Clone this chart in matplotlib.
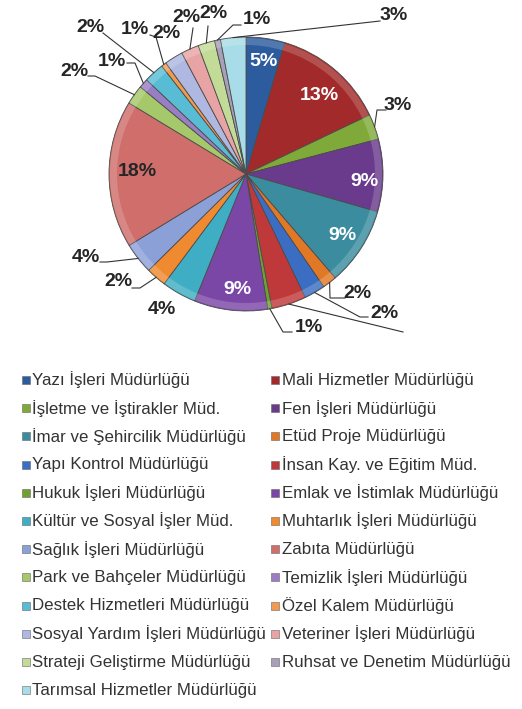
import numpy as np
import matplotlib.pyplot as plt
from matplotlib.patches import Wedge

# Data (share of staff per directorate, %)
departments = ['Yazı İşleri Müdürlüğü', 'Mali Hizmetler Müdürlüğü',
               'İşletme ve İştirakler Müd.', 'Fen İşleri Müdürlüğü',
               'İmar ve Şehircilik Müdürlüğü', 'Etüd Proje Müdürlüğü',
               'Yapı Kontrol Müdürlüğü', 'İnsan Kay. ve Eğitim Müd.',
               'Hukuk İşleri Müdürlüğü', 'Emlak ve İstimlak Müdürlüğü',
               'Kültür ve Sosyal İşler Müd.', 'Muhtarlık İşleri Müdürlüğü',
               'Sağlık İşleri Müdürlüğü', 'Zabıta Müdürlüğü',
               'Park ve Bahçeler Müdürlüğü', 'Temizlik İşleri Müdürlüğü',
               'Destek Hizmetleri Müdürlüğü', 'Özel Kalem Müdürlüğü',
               'Sosyal Yardım İşleri Müdürlüğü', 'Veteriner İşleri Müdürlüğü',
               'Strateji Geliştirme Müdürlüğü', 'Ruhsat ve Denetim Müdürlüğü',
               'Tarımsal Hizmetler Müdürlüğü']
shares = [4.6, 13.4, 3.0, 8.6, 9.3, 1.7, 2.5, 4.1, 0.5, 8.7, 4.1, 2.4,
          3.7, 17.5, 2.3, 1.1, 2.4, 0.6, 2.2, 2.1, 2.0, 0.7, 3.0]
pct_labels = ['5%', '13%', '3%', '9%', '9%', '2%', '2%', '', '1%', '9%', '4%', '2%',
              '4%', '18%', '2%', '1%', '2%', '1%', '2%', '2%', '2%', '1%', '3%']

colors = ['#2d5c9e', '#a32a2a', '#7faa3a', '#6a3a8c', '#3a8c9e', '#e07826',
          '#3b6ec2', '#c0393a', '#6fa030', '#7b47a6', '#3faec4', '#f08a30',
          '#8ca0d8', '#cf6e6a', '#a5c86a', '#9a7ec4', '#58bcd4', '#f39a4f',
          '#aeb8e0', '#e8a4a4', '#c2dc98', '#a8a0b8', '#a8dce8']

W, H = 522, 709
fig = plt.figure(figsize=(W / 100, H / 100), dpi=100)
ax = fig.add_axes([0, 0, 1, 1])

def Y(y):
    return H - y

cx, cy, R = 246, 174, 137
wedges, _ = ax.pie(shares, colors=colors, startangle=90, counterclock=False,
                   center=(cx, Y(cy)), radius=R, frame=True,
                   wedgeprops=dict(edgecolor='#4a4a4a', linewidth=0.6))
ax.set_xlim(0, W)
ax.set_ylim(0, H)
ax.set_aspect('equal')
ax.axis('off')

# bevel-ish rim highlight
for w in wedges:
    ax.add_patch(Wedge((cx, Y(cy)), R - 1, w.theta1, w.theta2, width=7,
                       facecolor='white', alpha=0.18, edgecolor='none'))

# label placement (pixel coords): text position, colour, leader elbow points
label_pos = [(264, 61), (319, 95), (398, 106), (364, 181), (342, 236), (357, 294),
             (384, 313), None, (309, 327), (237, 290), (162, 309), (118, 282),
             (86, 257), (137, 172), (74, 72), (112, 61), (90, 28), (135, 30),
             (166, 34), (186, 17), (213, 14), (257, 19), (394, 16)]
white_lbl = {0, 1, 3, 4, 9}
leaders = {2: [(377, 110), (386, 110)], 5: [(330, 298), (345, 298)],
           6: [(360, 317), (368, 317)], 7: [(403, 332)],
           8: [(283, 332), (292, 332)], 11: [(140, 288), (132, 288)],
           12: [(107, 262), (100, 262)], 14: [(95, 76), (88, 76)],
           15: [(135, 63), (127, 63)], 16: [(103, 33)],
           17: [(156, 37), (150, 35)], 19: [(193, 28)], 20: [(208, 26)],
           21: [(233, 25), (241, 25)], 22: [(380, 21)]}

for i, w in enumerate(wedges):
    if i in leaders:
        mid = np.deg2rad((w.theta1 + w.theta2) / 2)
        pts = [(cx + R * np.cos(mid), Y(cy) + R * np.sin(mid))]
        pts += [(x, Y(y)) for x, y in leaders[i]]
        xs, ys = zip(*pts)
        ax.plot(xs, ys, color='#333333', lw=0.8)
    if label_pos[i] is not None and pct_labels[i]:
        x, y = label_pos[i]
        ax.text(x, Y(y), pct_labels[i], ha='center', va='center', fontsize=14,
                fontweight='bold', family='Liberation Sans',
                color='white' if i in white_lbl else '#262626')

# legend, two columns
for i, (name, c) in enumerate(zip(departments, colors)):
    row, col = i // 2, i % 2
    y = 380 + 28.2 * row
    mx = 26 if col == 0 else 275
    ax.scatter([mx], [Y(y)], marker='s', s=30, color=c, edgecolors='#666666', linewidths=0.4)
    ax.text(mx + 6.5, Y(y), name, ha='left', va='center', fontsize=12.2,
            family='Liberation Sans', color='#333333')

fig.savefig('out.png', dpi=100)
